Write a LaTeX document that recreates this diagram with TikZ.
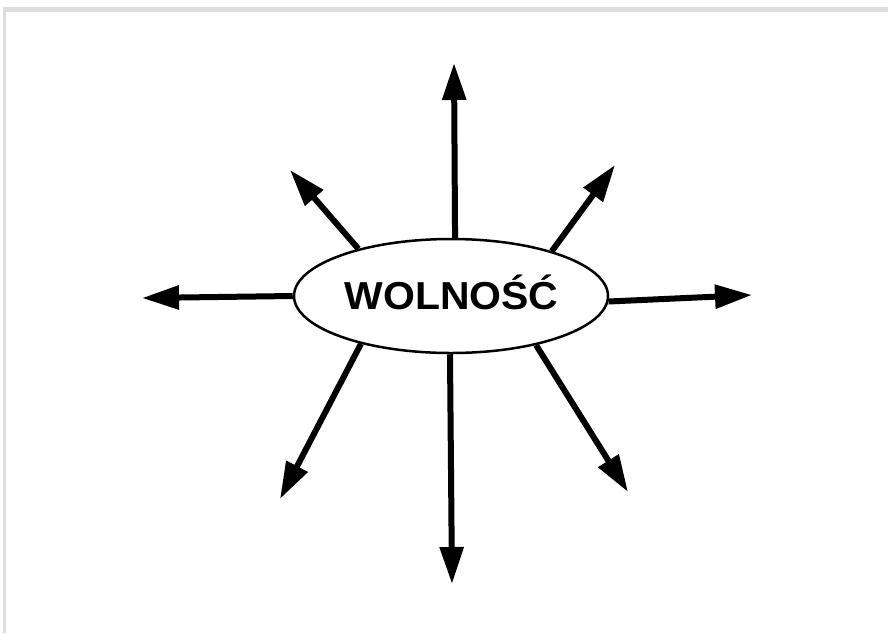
\documentclass[tikz,border=0pt]{standalone}
\usepackage{fontspec}
\setmainfont{Liberation Sans}
\usetikzlibrary{shapes.geometric,arrows.meta}
\definecolor{framegray}{HTML}{DDDDDD}
\tikzset{
  bubble/.style={ellipse, draw=black, line width=2.5pt, fill=white, minimum width=314pt, minimum height=114pt, inner sep=0pt},
  ray/.style={line width=6pt, -{Triangle[length=37pt,width=23pt]}, shorten >=0pt},
}
\begin{document}
\begin{tikzpicture}[x=1pt,y=-1pt]
\useasboundingbox (0,0) rectangle (888,633);
\fill[framegray] (3,7) rectangle (888,12);
\fill[framegray] (3,7) rectangle (6,633);
\node[bubble] (w) at (451,296) {};
\node[font=\fontsize{39}{39}\selectfont\bfseries] (lbl) at (451.5,292) {\scalebox{1.05}[1]{WOLNOŚĆ}};
\coordinate (tu) at (454,63);
\coordinate (td) at (452,584);
\coordinate (tl) at (142,298);
\coordinate (tr) at (752,295);
\coordinate (tul) at (290,170);
\coordinate (tur) at (615,165);
\coordinate (tdl) at (280,499);
\coordinate (tdr) at (628,492);
\draw[ray] (w.86) -- (tu);
\draw[ray] (w.269) -- (td);
\draw[ray] (w.180) -- (tl);
\draw[ray] (w.358.5) -- (tr);
\draw[ray] (w.153.7) -- (tul);
\draw[ray] (w.24.5) -- (tur);
\draw[ray] (w.208.3) -- (tdl);
\draw[ray] (w.330.3) -- (tdr);
\end{tikzpicture}
\end{document}
